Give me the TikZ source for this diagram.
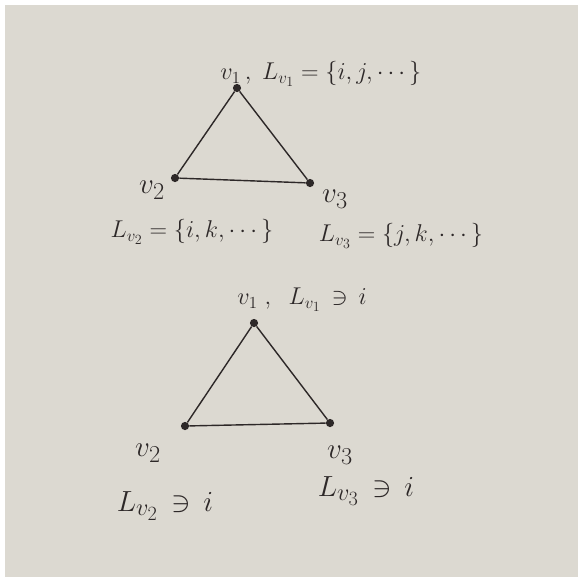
\documentclass[tikz,border=0pt]{standalone}
\usepackage{amsmath,amssymb}
\usepackage{xcolor}
\usepackage{tikz}
\usetikzlibrary{positioning}
\definecolor{paper}{RGB}{220,217,209}
\definecolor{ink}{RGB}{45,40,40}

\begin{document}
\begin{tikzpicture}[x=0.03cm,y=-0.03cm,
  vert/.style={circle,fill=ink,inner sep=0pt,minimum size=7pt},
  lbl/.style={text=ink,font=\huge,inner sep=1pt},
  big/.style={lbl,font=\Huge},
  edge/.style={draw=ink,line width=1.2pt}]
  \useasboundingbox (0,0) rectangle (583,582);
  \fill[white] (0,0) rectangle (583,582);
  \fill[paper] (5,5) rectangle (578,577);
  % top triangle
  \node[vert] (a1) at (237,88) {};
  \node[vert] (a2) at (175,178) {};
  \node[vert] (a3) at (310,183) {};
  \draw[edge] (a1) -- (a2) -- (a3) -- (a1);
  \node[lbl,anchor=west] (la1) at (219,74) {$v_1\,,\; L_{v_1}=\{i,j,\cdots\}$};
  \node[big] (na2) at (152,190) {$v_2$};
  \node[big] (na3) at (335,199) {$v_3$};
  \node[lbl] (la2) at (192,232) {$L_{v_2}=\{i,k,\cdots\}$};
  \node[lbl] (la3) at (401,236) {$L_{v_3}=\{j,k,\cdots\}$};
  % bottom triangle
  \node[vert] (b1) at (254,323) {};
  \node[vert] (b2) at (185,426) {};
  \node[vert] (b3) at (330,423) {};
  \draw[edge] (b1) -- (b2) -- (b3) -- (b1);
  \node[lbl,anchor=west] (lb1) at (236,300) {$v_1\;,\;\; L_{v_1}\,\ni\, i$};
  \node[big] (nb2) at (148,453) {$v_2$};
  \node[big] (nb3) at (340,455) {$v_3$};
  \node[big] (lb2) at (165,506) {$L_{v_2}\,\ni\, i$};
  \node[big] (lb3) at (366,491) {$L_{v_3}\,\ni\, i$};
\end{tikzpicture}
\end{document}
